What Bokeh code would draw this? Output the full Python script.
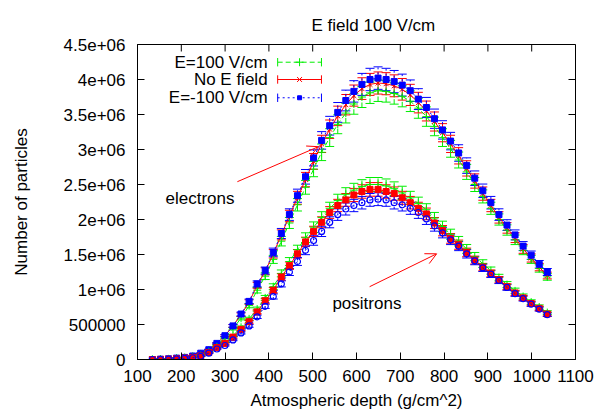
from bokeh.plotting import figure
from bokeh.models import (ColumnDataSource, Whisker, TeeHead, FixedTicker,
                          Label, Arrow, OpenHead, Range1d)
from bokeh.embed import file_html
from bokeh.resources import INLINE
from bokeh.core.properties import value

# ---------------- data (values in millions of particles) ----------------
depth = [134.0, 152.4, 170.8, 189.2, 207.6, 226.0, 244.4, 262.8, 281.2, 299.6,
         318.0, 336.4, 354.8, 373.2, 391.6, 410.0, 428.4, 446.8, 465.2, 483.6,
         502.0, 520.4, 538.8, 557.2, 575.6, 594.0, 612.4, 630.8, 649.2, 667.6,
         686.0, 704.4, 722.8, 741.2, 759.6, 778.0, 796.4, 814.8, 833.2, 851.6,
         870.0, 888.4, 906.8, 925.2, 943.6, 962.0, 980.4, 998.8, 1017.2, 1035.6]

el_e100 = [0.0, 0.003, 0.009, 0.018, 0.028, 0.045, 0.08, 0.13, 0.21, 0.31,
           0.44, 0.59, 0.77, 0.99, 1.19, 1.43, 1.69, 1.95, 2.21, 2.46,
           2.72, 2.96, 3.17, 3.36, 3.52, 3.65, 3.75, 3.81, 3.84, 3.83,
           3.80, 3.76, 3.69, 3.59, 3.47, 3.33, 3.17, 3.01, 2.85, 2.68,
           2.50, 2.33, 2.16, 2.00, 1.85, 1.71, 1.56, 1.43, 1.30, 1.18]
el_noe = [0.0, 0.004, 0.01, 0.02, 0.03, 0.05, 0.09, 0.14, 0.23, 0.34,
          0.48, 0.64, 0.82, 1.06, 1.26, 1.51, 1.78, 2.05, 2.31, 2.57,
          2.83, 3.08, 3.29, 3.48, 3.64, 3.77, 3.87, 3.93, 3.95, 3.94,
          3.91, 3.86, 3.78, 3.67, 3.55, 3.40, 3.24, 3.08, 2.91, 2.73,
          2.55, 2.37, 2.20, 2.03, 1.88, 1.74, 1.58, 1.45, 1.32, 1.20]
el_em100 = [0.0, 0.004, 0.01, 0.02, 0.03, 0.05, 0.09, 0.14, 0.23, 0.34,
            0.48, 0.65, 0.83, 1.08, 1.27, 1.53, 1.80, 2.07, 2.34, 2.61,
            2.88, 3.13, 3.34, 3.53, 3.70, 3.83, 3.93, 4.00, 4.02, 4.00,
            3.97, 3.92, 3.84, 3.72, 3.60, 3.44, 3.28, 3.12, 2.95, 2.77,
            2.59, 2.41, 2.24, 2.07, 1.92, 1.78, 1.62, 1.49, 1.36, 1.25]

po_e100 = [0.0, 0.002, 0.005, 0.01, 0.02, 0.03, 0.055, 0.11, 0.18, 0.25,
           0.34, 0.46, 0.58, 0.72, 0.88, 1.04, 1.23, 1.40, 1.57, 1.74,
           1.89, 2.03, 2.16, 2.27, 2.36, 2.42, 2.47, 2.50, 2.50, 2.48,
           2.44, 2.38, 2.31, 2.23, 2.14, 2.02, 1.90, 1.79, 1.69, 1.58,
           1.47, 1.37, 1.27, 1.17, 1.07, 0.98, 0.90, 0.82, 0.75, 0.67]
po_noe = [0.0, 0.002, 0.005, 0.01, 0.02, 0.03, 0.05, 0.10, 0.17, 0.23,
          0.32, 0.43, 0.54, 0.68, 0.84, 0.99, 1.18, 1.34, 1.51, 1.68,
          1.83, 1.96, 2.10, 2.20, 2.28, 2.35, 2.40, 2.43, 2.43, 2.40,
          2.37, 2.31, 2.24, 2.16, 2.08, 1.95, 1.84, 1.73, 1.64, 1.53,
          1.42, 1.32, 1.23, 1.14, 1.04, 0.95, 0.88, 0.80, 0.73, 0.65]
po_em100 = [0.0, 0.002, 0.004, 0.008, 0.015, 0.025, 0.045, 0.09, 0.15, 0.20,
            0.28, 0.38, 0.48, 0.61, 0.76, 0.90, 1.08, 1.25, 1.40, 1.56,
            1.70, 1.83, 1.96, 2.07, 2.15, 2.20, 2.24, 2.28, 2.29, 2.28,
            2.24, 2.21, 2.16, 2.10, 2.01, 1.91, 1.81, 1.71, 1.62, 1.51,
            1.41, 1.31, 1.22, 1.13, 1.03, 0.94, 0.87, 0.79, 0.72, 0.64]

rel_err = 0.04  # relative size of the error bars

series_names = ["E=100 V/cm", "No E field", "E=-100 V/cm"]
x_ticks = [100, 200, 300, 400, 500, 600, 700, 800, 900, 1000, 1100]
y_ticks = [0, 500000, 1000000, 1500000, 2000000, 2500000, 3000000, 3500000,
           4000000, 4500000]
y_tick_labels = ["0", "500000", "1e+06", "1.5e+06", "2e+06", "2.5e+06", "3e+06",
                 "3.5e+06", "4e+06", "4.5e+06"]

FONT = "Liberation Sans"
FS = "17px"
GREEN, RED, BLUE = "#00ee00", "#ff0000", "#0000ff"
X0, X1, Y0, Y1 = 100, 1100, 0, 4.5e6

p = figure(width=603, height=414, x_range=Range1d(X0, X1), y_range=Range1d(Y0, Y1),
           output_backend="svg", toolbar_location=None,
           min_border_left=137, min_border_right=28, min_border_top=44, min_border_bottom=55)
p.xgrid.visible = False
p.ygrid.visible = False
p.outline_line_color = "black"
p.outline_line_width = 1
p.background_fill_color = "white"
p.border_fill_color = "white"

p.title.text = "E field 100 V/cm"
p.title.align = "left"
p.title.offset = 174
p.title.standoff = 20
p.title.text_font = FONT
p.title.text_font_size = FS
p.title.text_font_style = "normal"
p.title.text_color = "black"


def style_axis(ax):
    ax.axis_line_color = "black"
    ax.axis_line_width = 1
    ax.major_tick_in = 7
    ax.major_tick_out = 0
    ax.minor_tick_line_color = None
    ax.major_tick_line_color = "black"
    ax.major_label_text_font = FONT
    ax.major_label_text_font_size = FS
    ax.major_label_text_color = "black"
    ax.axis_label_text_font = FONT
    ax.axis_label_text_font_size = FS
    ax.axis_label_text_font_style = "normal"
    ax.axis_label_text_color = "black"


p.xaxis.ticker = FixedTicker(ticks=x_ticks)
p.yaxis.ticker = FixedTicker(ticks=y_ticks)
p.yaxis.major_label_overrides = {v: s for v, s in zip(y_ticks, y_tick_labels)}
p.xaxis.axis_label = "Atmospheric depth (g/cm^2)"
p.yaxis.axis_label = "Number of particles"
style_axis(p.xaxis[0])
style_axis(p.yaxis[0])
p.xaxis.major_label_standoff = 10
p.yaxis.major_label_standoff = 12
p.xaxis.axis_label_standoff = 6
p.yaxis.axis_label_standoff = 30

# mirrored tick marks on the top and right border (gnuplot style)
tick_dy = 0.1e6   # ~7 px
tick_dx = 16      # ~7 px
p.segment(x0=x_ticks, y0=[Y1] * len(x_ticks), x1=x_ticks, y1=[Y1 - tick_dy] * len(x_ticks),
          line_color="black", line_width=1)
p.segment(x0=[X1] * len(y_ticks), y0=y_ticks, x1=[X1 - tick_dx] * len(y_ticks), y1=y_ticks,
          line_color="black", line_width=1)


def draw(vals, color, dash, marker, size, fill=True):
    ys = [v * 1e6 for v in vals]
    src = ColumnDataSource(dict(x=depth, y=ys,
                                up=[v * (1 + rel_err) for v in ys],
                                lo=[v * (1 - rel_err) for v in ys]))
    w = Whisker(source=src, base="x", upper="up", lower="lo",
                line_color=color, line_width=1, line_dash=dash,
                upper_head=TeeHead(size=9, line_color=color, line_width=1),
                lower_head=TeeHead(size=9, line_color=color, line_width=1))
    p.add_layout(w)
    p.line("x", "y", source=src, line_color=color, line_width=1, line_dash=dash)
    if fill:
        p.scatter("x", "y", source=src, marker=marker, size=size,
                  line_color=color, fill_color=color, line_width=1)
    else:
        p.scatter("x", "y", source=src, marker=marker, size=size,
                  line_color=color, fill_color=None, line_width=1.2)


draw(el_e100, GREEN, "5 3", "cross", 8)
draw(el_noe, RED, "solid", "x", 7)
draw(el_em100, BLUE, "2 3", "square", 6)
draw(po_e100, GREEN, "5 3", "cross", 8)
draw(po_noe, RED, "solid", "square", 6)
draw(po_em100, BLUE, "2 3", "circle", 6, fill=False)

# ---------------- manual key (gnuplot style: text right, sample left) ----------------
key_y = [4.247e6, 4.0e6, 3.739e6]
key_colors = [GREEN, RED, BLUE]
key_dash = ["5 3", "solid", "2 3"]
key_marker = ["cross", "x", "square"]
key_msize = [8, 7, 4]
p.text(x=[397] * 3, y=key_y, text=series_names, text_align="right",
       text_baseline="middle", text_font=value(FONT), text_font_size=FS,
       text_color="black")
for yy, c, d, m, s in zip(key_y, key_colors, key_dash, key_marker, key_msize):
    p.line([420, 520], [yy, yy], line_color=c, line_dash=d, line_width=1)
    p.segment(x0=[420, 520], y0=[yy - 0.06e6] * 2, x1=[420, 520], y1=[yy + 0.06e6] * 2,
              line_color=c, line_width=1)
    p.scatter([470], [yy], marker=m, size=s, line_color=c, fill_color=c)

# ---------------- annotations ----------------
p.add_layout(Label(x=164, y=2.3e6, text="electrons", text_baseline="middle",
                   text_font=FONT, text_font_size=FS, text_color="black"))
p.add_layout(Label(x=545, y=0.8e6, text="positrons", text_baseline="middle",
                   text_font=FONT, text_font_size=FS, text_color="black"))
p.add_layout(Arrow(end=OpenHead(size=11, line_color=RED, line_width=1),
                   x_start=328, y_start=2.54e6, x_end=513, y_end=3.04e6,
                   line_color=RED, line_width=1))
p.add_layout(Arrow(end=OpenHead(size=11, line_color=RED, line_width=1),
                   x_start=630, y_start=1.04e6, x_end=783, y_end=1.51e6,
                   line_color=RED, line_width=1))

open("out.html", "w").write(file_html(p, INLINE))
